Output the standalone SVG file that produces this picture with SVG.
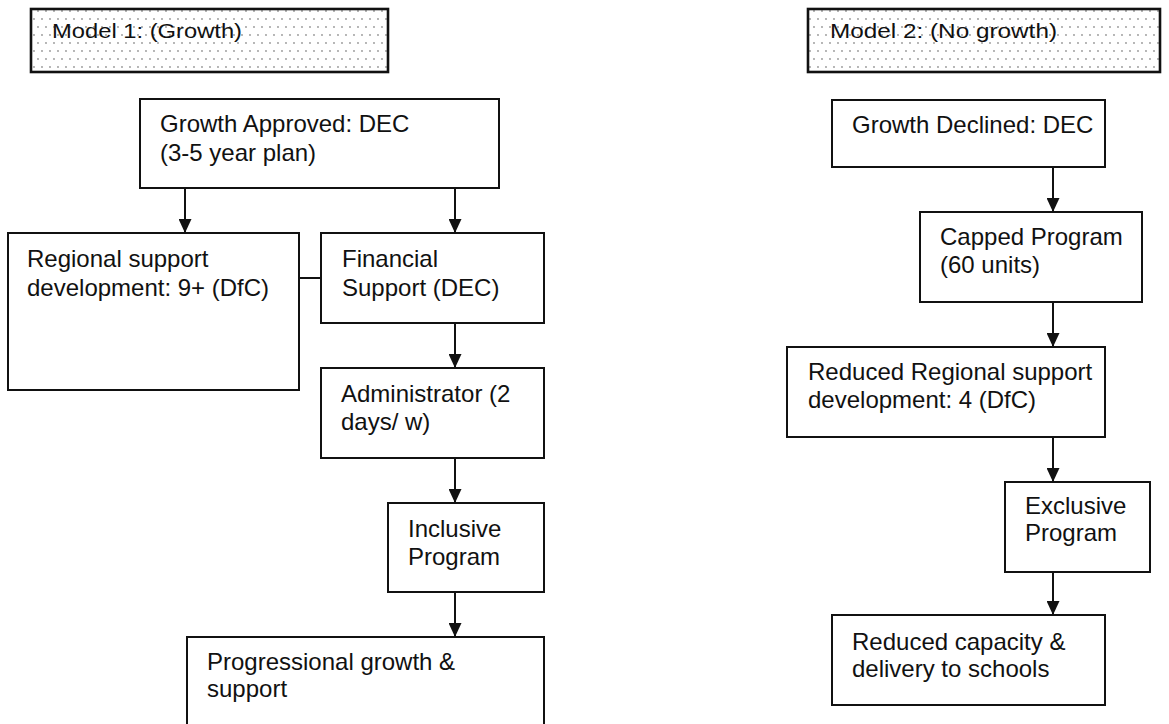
<svg xmlns="http://www.w3.org/2000/svg" width="1169" height="724" viewBox="0 0 1169 724">
<style>
.box{fill:#fff;stroke:#111;stroke-width:2}
.hdr{fill:url(#dots);stroke:#111;stroke-width:2.6}
.t{font-family:"Liberation Sans",Arial,Helvetica,sans-serif;font-size:24px;fill:#111}
.h{font-family:"Liberation Sans",Arial,Helvetica,sans-serif;font-size:21px;fill:#111}
.c{fill:none;stroke:#111;stroke-width:2}
</style>
<defs>
<pattern id="dots" width="8" height="16" patternUnits="userSpaceOnUse">
<rect width="8" height="16" fill="#fff"/>
<circle cx="2" cy="3" r="0.65" fill="#333"/>
<circle cx="6" cy="11" r="0.65" fill="#333"/>
</pattern>
<marker id="ah" viewBox="0 0 14 13" markerWidth="14" markerHeight="13" refX="14" refY="6.5" orient="auto" markerUnits="userSpaceOnUse">
<path d="M0,0 L14,6.5 L0,13 z" fill="#111"/>
</marker>
</defs>
<rect width="1169" height="724" fill="#fff"/>

<g id="header1">
<rect class="hdr" x="31" y="9" width="357" height="63"/>
<text class="h" x="52" y="38" textLength="190" lengthAdjust="spacingAndGlyphs">Model 1: (Growth)</text>
</g>
<g id="header2">
<rect class="hdr" x="808" y="9" width="352" height="63"/>
<text class="h" x="830" y="38" textLength="227" lengthAdjust="spacingAndGlyphs">Model 2: (No growth)</text>
</g>

<g id="connectors">
<path class="c" d="M185,188 V233" marker-end="url(#ah)"/>
<path class="c" d="M455,188 V233" marker-end="url(#ah)"/>
<path class="c" d="M299,278 H321"/>
<path class="c" d="M455,323 V368" marker-end="url(#ah)"/>
<path class="c" d="M455,458 V503" marker-end="url(#ah)"/>
<path class="c" d="M455,592 V637" marker-end="url(#ah)"/>
<path class="c" d="M1053,167 V212" marker-end="url(#ah)"/>
<path class="c" d="M1053,302 V347" marker-end="url(#ah)"/>
<path class="c" d="M1053,437 V482" marker-end="url(#ah)"/>
<path class="c" d="M1053,572 V615" marker-end="url(#ah)"/>
</g>

<g id="growth-approved">
<rect class="box" x="140" y="99" width="359" height="89"/>
<text class="t" x="160" y="132">Growth Approved: DEC</text>
<text class="t" x="160" y="161">(3-5 year plan)</text>
</g>
<g id="regional-support">
<rect class="box" x="8" y="233" width="291" height="157"/>
<text class="t" x="27" y="267">Regional support</text>
<text class="t" x="27" y="296">development: 9+ (DfC)</text>
</g>
<g id="financial-support">
<rect class="box" x="321" y="233" width="223" height="90"/>
<text class="t" x="342" y="267">Financial</text>
<text class="t" x="342" y="296">Support (DEC)</text>
</g>
<g id="administrator">
<rect class="box" x="321" y="368" width="223" height="90"/>
<text class="t" x="341" y="402">Administrator (2</text>
<text class="t" x="341" y="430">days/ w)</text>
</g>
<g id="inclusive-program">
<rect class="box" x="388" y="503" width="156" height="89"/>
<text class="t" x="408" y="537">Inclusive</text>
<text class="t" x="408" y="565">Program</text>
</g>
<g id="progressional-growth">
<rect class="box" x="187" y="637" width="357" height="100"/>
<text class="t" x="207" y="670">Progressional growth &amp;</text>
<text class="t" x="207" y="697">support</text>
</g>

<g id="growth-declined">
<rect class="box" x="832" y="100" width="273" height="67"/>
<text class="t" x="852" y="133">Growth Declined: DEC</text>
</g>
<g id="capped-program">
<rect class="box" x="920" y="212" width="222" height="90"/>
<text class="t" x="940" y="245">Capped Program</text>
<text class="t" x="940" y="273">(60 units)</text>
</g>
<g id="reduced-regional">
<rect class="box" x="787" y="347" width="318" height="90"/>
<text class="t" x="808" y="380">Reduced Regional support</text>
<text class="t" x="808" y="408">development: 4 (DfC)</text>
</g>
<g id="exclusive-program">
<rect class="box" x="1005" y="482" width="145" height="90"/>
<text class="t" x="1025" y="514">Exclusive</text>
<text class="t" x="1025" y="541">Program</text>
</g>
<g id="reduced-capacity">
<rect class="box" x="832" y="615" width="273" height="90"/>
<text class="t" x="852" y="650">Reduced capacity &amp;</text>
<text class="t" x="852" y="677">delivery to schools</text>
</g>
</svg>
